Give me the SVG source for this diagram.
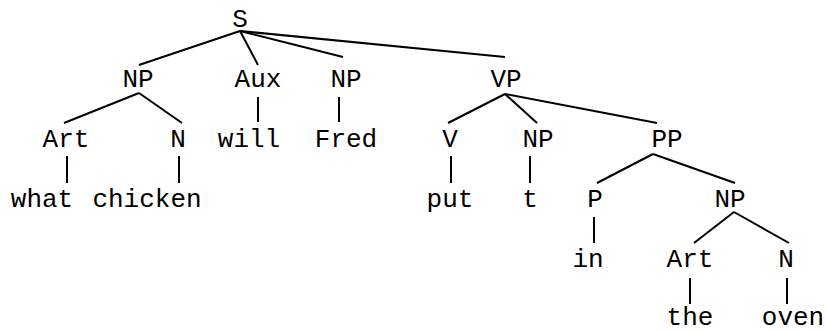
<svg xmlns="http://www.w3.org/2000/svg" width="826" height="332" viewBox="0 0 826 332">
<style>
text{font-family:"Liberation Mono","Courier New",monospace;font-size:26px;fill:#000;text-anchor:middle}
line{stroke:#000;stroke-width:2}
</style>
<rect width="826" height="332" fill="#fff"/>
<g id="connectors">
<line x1="240" y1="31" x2="139" y2="65"/>
<line x1="240" y1="31" x2="258" y2="65"/>
<line x1="240" y1="31" x2="343" y2="57"/>
<line x1="240" y1="31" x2="505" y2="57"/>
<line x1="139" y1="93" x2="64" y2="123"/>
<line x1="139" y1="93" x2="182" y2="123"/>
<line x1="258" y1="97" x2="258" y2="122"/>
<line x1="339" y1="97" x2="339" y2="122"/>
<line x1="505" y1="94" x2="448" y2="123"/>
<line x1="505" y1="94" x2="537" y2="123"/>
<line x1="505" y1="94" x2="657" y2="123"/>
<line x1="67" y1="156" x2="67" y2="183"/>
<line x1="179" y1="156" x2="179" y2="183"/>
<line x1="451" y1="156" x2="451" y2="183"/>
<line x1="530" y1="156" x2="530" y2="183"/>
<line x1="653" y1="154" x2="597" y2="183"/>
<line x1="653" y1="154" x2="735" y2="183"/>
<line x1="594" y1="217" x2="594" y2="243"/>
<line x1="734" y1="212" x2="694" y2="243"/>
<line x1="734" y1="212" x2="789" y2="243"/>
<line x1="690" y1="278" x2="690" y2="304"/>
<line x1="787" y1="278" x2="787" y2="304"/>
</g>
<g id="n_S"><text x="240" y="27">S</text></g>
<g id="n_NP1"><text x="138" y="86.5">NP</text></g>
<g id="n_Aux"><text x="258" y="86.5">Aux</text></g>
<g id="n_NP2"><text x="346" y="86.5">NP</text></g>
<g id="n_VP"><text x="506" y="86.5">VP</text></g>
<g id="n_Art1"><text x="66" y="147">Art</text></g>
<g id="n_N1"><text x="178" y="147">N</text></g>
<g id="n_will"><text x="249" y="147">will</text></g>
<g id="n_Fred"><text x="346" y="147">Fred</text></g>
<g id="n_V"><text x="450" y="147">V</text></g>
<g id="n_NP3"><text x="538" y="147">NP</text></g>
<g id="n_PP"><text x="667" y="147">PP</text></g>
<g id="n_what"><text x="42" y="206.5">what</text></g>
<g id="n_chicken"><text x="147" y="206.5">chicken</text></g>
<g id="n_put"><text x="450" y="206.5">put</text></g>
<g id="n_t"><text x="530" y="206.5">t</text></g>
<g id="n_P"><text x="595" y="206.5">P</text></g>
<g id="n_NP4"><text x="730" y="206.5">NP</text></g>
<g id="n_in"><text x="588" y="267">in</text></g>
<g id="n_Art2"><text x="690" y="267">Art</text></g>
<g id="n_N2"><text x="786" y="267">N</text></g>
<g id="n_the"><text x="690" y="325">the</text></g>
<g id="n_oven"><text x="793" y="325">oven</text></g>
</svg>
